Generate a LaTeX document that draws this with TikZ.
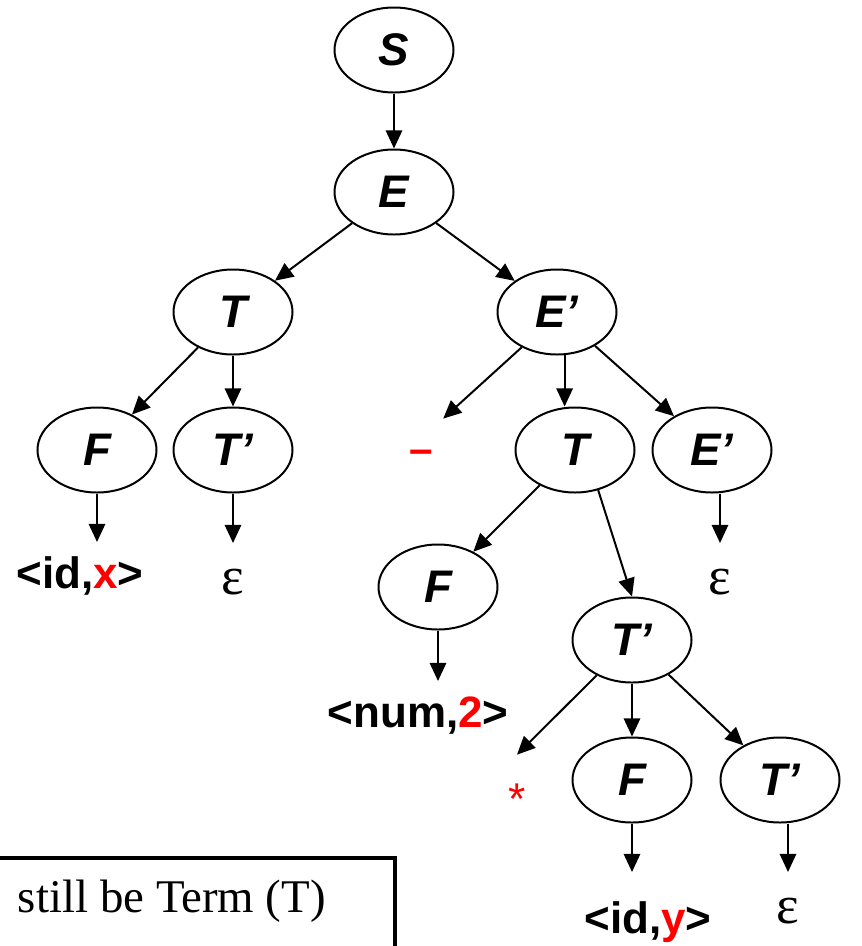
\documentclass[tikz,border=0pt]{standalone}
\usepackage{fontspec}
\setmainfont{Liberation Serif}
\setsansfont{Liberation Sans}
\usetikzlibrary{arrows.meta,shapes.geometric}

\begin{document}
\begin{tikzpicture}[x=0.03cm, y=-0.03cm, >={Triangle[length=15.5pt,width=14pt]}, line width=1.7pt,
  nt/.style={draw, ellipse, minimum width=3.57cm, minimum height=2.55cm, inner sep=0pt, font=\sffamily\bfseries\itshape\fontsize{39}{39}\selectfont},
  leaf/.style={anchor=base, inner sep=0pt, text height=1.35cm, font=\sffamily\bfseries\fontsize{37.5}{37.5}\selectfont},
  eps/.style={anchor=base, inner sep=0pt, text height=1.5cm, font=\fontsize{46}{46}\selectfont},
  op/.style={circle, inner sep=0pt, minimum size=2.6cm, text=red, font=\sffamily\bfseries\fontsize{36}{36}\selectfont}]
\useasboundingbox (0,0) rectangle (861,946);
\clip (0,0) rectangle (861,946);
% nonterminals
\node[nt] (S) at (394,50) {S};
\node[nt] (E) at (394,192) {E};
\node[nt] (T1) at (233,312) {T};
\node[nt] (E1) at (557,312) {E’};
\node[nt] (F1) at (97,450) {F};
\node[nt] (Tp1) at (233,450) {T’};
\node[nt] (T2) at (575,450) {T};
\node[nt] (E2) at (712,450) {E’};
\node[nt] (F3) at (438,587) {F};
\node[nt] (Tp2) at (632,640) {T’};
\node[nt] (F4) at (632,780) {F};
\node[nt] (Tp3) at (780,780) {T’};
% terminals
\node[op] (minus) at (421,457) {–};
\node[op, font=\sffamily\fontsize{38}{38}\selectfont] (star) at (517,799) {*};
\node[leaf] (idx) at (80,588) {<id,\textcolor{red}{x}>};
\node[eps] (eps1) at (233,594) {ε};
\node[eps] (eps2) at (720,594) {ε};
\node[leaf] (num) at (418,727) {<num,\textcolor{red}{2}>};
\node[leaf, text height=1.8cm] (idy) at (648,933) {<id,\textcolor{red}{y}>};
\node[eps] (eps3) at (788,923) {ε};
% edges
\foreach \a/\b in {S/E, E/T1, E/E1, T1/F1, E1/E2, T2/F3, Tp2/Tp3}
  \draw[->] (\a) -- (\b);
\draw[->] (T1.south) -- (Tp1.north);
\draw[->] (E1.-135) -- (minus.60);
\draw[->] (E1.-80) -- (E1.-80 |- T2.north);
\draw[->] (T2.-60) -- (Tp2.north);
\draw[->] (Tp2.-135) -- (star.north);
\draw[->] (Tp2.south) -- (F4.north);
\foreach \a/\b in {F1/idx, Tp1/eps1, F3/num, F4/idy}
  \draw[->] (\a.south) -- (\a.south |- \b.north);
\foreach \a/\b in {E2/eps2, Tp3/eps3}
  \draw[->] (\b.north |- \a.south) -- (\b.north);
% note box
\draw[line width=3.4pt] (-40,858) rectangle (395,1000);
\node[anchor=base west, inner sep=0pt, font=\fontsize{40}{40}\selectfont] (note) at (17,912) {still be Term (T)};
\end{tikzpicture}
\end{document}
